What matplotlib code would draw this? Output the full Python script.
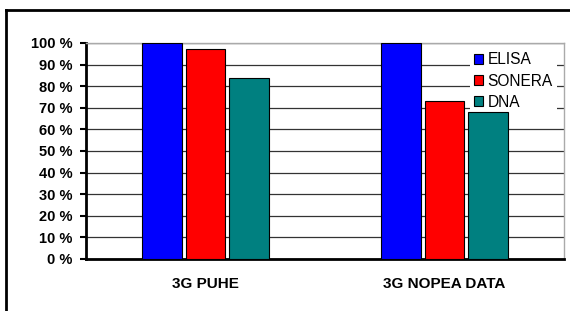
import numpy as np
import matplotlib.pyplot as plt
from matplotlib.lines import Line2D
from matplotlib.ticker import FuncFormatter

# Data
categories = ['3G PUHE', '3G NOPEA DATA']
series_names = ['ELISA', 'SONERA', 'DNA']
elisa = [100, 100]
sonera = [97, 73]
dna = [84, 68]
series_colors = ['#0000FF', '#FF0000', '#008080']

plt.rcParams['font.family'] = ['Liberation Sans', 'DejaVu Sans']

fig = plt.figure(figsize=(5.7, 3.11), dpi=100)
ax = fig.add_axes([86 / 570, 52 / 311, 478 / 570, 216 / 311])

# Outer chart frame (only left and top edges fall inside the crop)
fx, fy = 6 / 570, 1 - 10 / 311
fig.add_artist(Line2D([fx, fx], [0, fy], transform=fig.transFigure,
                      color='black', linewidth=2, solid_capstyle='projecting'))
fig.add_artist(Line2D([fx, 1], [fy, fy], transform=fig.transFigure,
                      color='black', linewidth=2, solid_capstyle='projecting'))

x = np.arange(len(categories))
pitch = 0.182
width = 0.166
for i, (vals, name, col) in enumerate(zip([elisa, sonera, dna], series_names, series_colors)):
    ax.bar(x + (i - 1) * pitch, vals, width, color=col, edgecolor='black',
           linewidth=0.8, label=name, zorder=3)

ax.set_xlim(-0.5, 1.5)
ax.set_ylim(0, 100)
ax.set_yticks(np.arange(0, 101, 10))
ax.yaxis.set_major_formatter(FuncFormatter(lambda v, p: f'{int(v)} %'))
ax.yaxis.grid(True, color='#333333', linewidth=0.9, zorder=0)
ax.set_axisbelow(True)

ax.set_xticks(x)
ax.set_xticklabels(categories, fontsize=11, fontweight='bold')
ax.tick_params(axis='x', length=0, pad=13)
ax.tick_params(axis='y', direction='out', length=4.3, width=1.5, pad=5.5,
               labelsize=10.5)
for lbl in ax.get_yticklabels():
    lbl.set_fontweight('bold')

ax.spines['left'].set_linewidth(2)
ax.spines['bottom'].set_linewidth(2)
ax.spines['top'].set_color('#aaaaaa')
ax.spines['right'].set_color('#aaaaaa')
ax.spines['top'].set_linewidth(1)
ax.spines['right'].set_linewidth(1)

leg = ax.legend(loc='upper right', bbox_to_anchor=(0.985, 0.975), fontsize=11.2,
                handlelength=0.6, handleheight=0.6, handletextpad=0.3,
                labelspacing=0.4, borderpad=0.25, fancybox=False,
                framealpha=1, edgecolor='none', borderaxespad=0)
# legend hides the gridlines but sits under the bars
leg.set_zorder(2.5)

fig.savefig('out.png', dpi=100)
